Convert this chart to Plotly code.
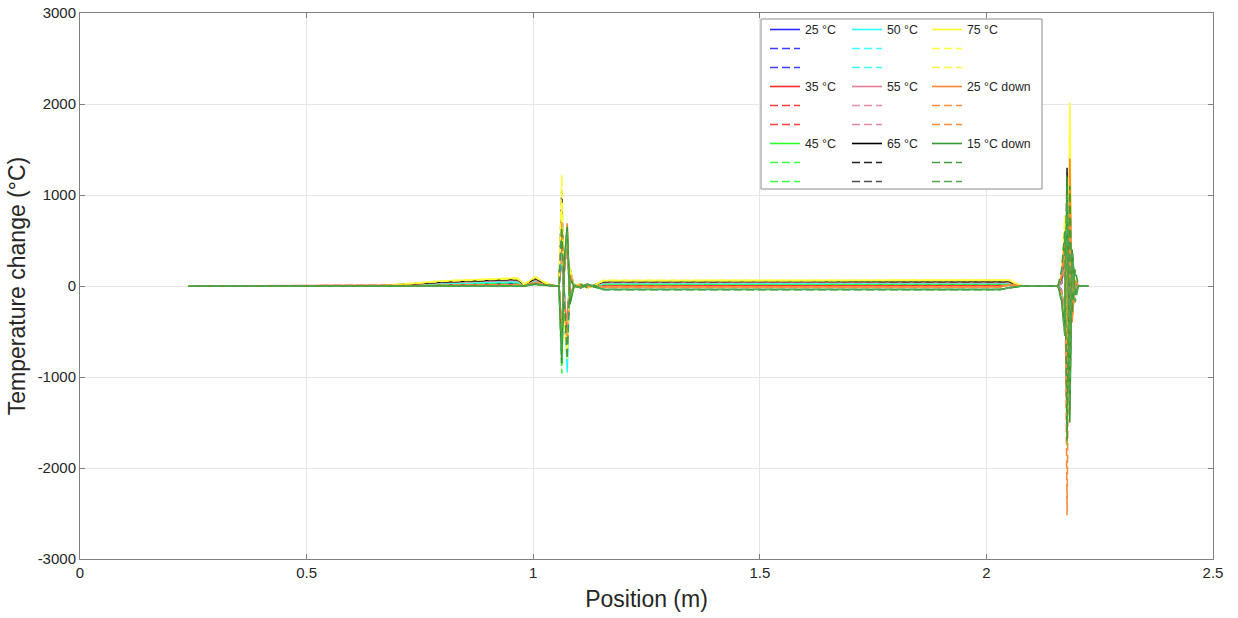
import plotly.graph_objects as go

# Sample positions along the rod (m)
position_m = [0.24, 0.66, 0.80, 0.965, 0.98, 0.995, 1.005, 1.02, 1.045, 1.057,
              1.063, 1.069, 1.075, 1.081, 1.09, 1.105, 1.12, 1.135, 1.155, 1.60,
              2.03, 2.05, 2.065, 2.08, 2.158, 2.166, 2.173, 2.178, 2.184, 2.189,
              2.196, 2.203, 2.225]

# Temperature change (°C) per run: one solid and two dashed curves per setting
t25_solid = [0, 0, 18, 30, 6, 32, 45, 22, 0, 0, 450, -200, -500, 150, 0, 12, -10, 6, 10, 11, 10, 20, 8, 0, 0, 30, 300, -900, 700, -200, 20, 0, 0]
t25_dash1 = [0, 0, 16, 28, 5, 30, 42, 20, 0, 0, -600, 300, 400, -100, 0, -10, 14, -5, 12, 12, 11, 18, 7, 0, 0, -40, -350, 600, -800, 250, -30, 0, 0]
t25_dash2 = [0, 0, 20, 32, 7, 33, 47, 23, 0, 0, 300, -100, -650, 100, 0, 8, -12, 5, 8, 9, 9, 22, 9, 0, 0, 50, 400, -1000, 500, -150, 20, 0, 0]

t35_solid = [0, 0, 8, 15, 4, 28, 40, 20, 0, 0, 500, -150, -550, 200, 0, 10, -15, 8, 5, 5, 4, 15, 6, 0, 0, 40, 350, -1100, 900, -250, 30, 0, 0]
t35_dash1 = [0, 0, 7, 13, 3, 26, 38, 18, 0, 0, -700, 200, 500, -150, 0, -12, 12, -6, 3, 4, 3, 13, 5, 0, 0, -50, -300, 700, -900, 300, -40, 0, 0]
t35_dash2 = [0, 0, 9, 17, 5, 29, 42, 21, 0, 0, 650, -300, -400, 100, 0, 14, -9, 7, 7, 6, 6, 17, 7, 0, 0, 60, 450, -1200, 800, -200, 30, 0, 0]

t45_solid = [0, 0, 25, 40, 8, 35, 50, 25, 0, 0, -500, 250, 600, -200, 0, -15, 18, -8, 20, 21, 20, 25, 10, 0, 0, 80, 400, -1300, 1000, -300, 50, 0, 0]
t45_dash1 = [0, 0, 23, 38, 7, 34, 48, 24, 0, 0, -960, 300, 550, -150, 0, 16, -14, 9, 18, 19, 18, 23, 9, 0, 0, 100, 500, -1780, 900, -250, 60, 0, 0]
t45_dash2 = [0, 0, 27, 42, 9, 36, 52, 26, 0, 0, 700, -250, -600, 150, 0, -14, 16, -7, 22, 22, 21, 27, 11, 0, 0, -80, -450, 800, -1100, 350, -50, 0, 0]

t50_solid = [0, 0, 30, 50, 10, 42, 60, 30, 0, 0, 350, -100, -950, 200, 0, 18, -16, 9, 30, 31, 30, 35, 14, 0, 0, 50, 350, -1050, 850, -250, 40, 0, 0]
t50_dash1 = [0, 0, 28, 48, 9, 40, 57, 28, 0, 0, -800, 300, 450, -100, 0, -16, 18, -9, 28, 29, 28, 33, 13, 0, 0, -60, -400, 700, -950, 300, -40, 0, 0]
t50_dash2 = [0, 0, 32, 52, 11, 44, 62, 31, 0, 0, 550, -200, -700, 150, 0, 15, -18, 8, 32, 32, 31, 37, 15, 0, 0, 70, 300, -1150, 700, -200, 30, 0, 0]

t55_solid = [0, 0, 40, 65, 12, 50, 70, 35, 0, 0, 600, -200, -500, 100, 0, 20, -18, 10, 40, 41, 40, 40, 16, 0, 0, 60, 400, -1000, 900, -300, 40, 0, 0]
t55_dash1 = [0, 0, 38, 62, 11, 48, 67, 33, 0, 0, -500, 150, 400, -100, 0, -18, 20, -10, 38, 39, 38, 38, 15, 0, 0, -50, -350, 600, -800, 250, -30, 0, 0]
t55_dash2 = [0, 0, 42, 67, 13, 51, 72, 36, 0, 0, 400, -150, -450, 100, 0, 17, -20, 9, 42, 42, 41, 42, 17, 0, 0, 40, 300, -900, 700, -200, 30, 0, 0]

t65_solid = [0, 0, 45, 75, 14, 60, 85, 42, 0, 0, 800, -300, -650, 150, 0, 22, -20, 11, 50, 51, 50, 50, 20, 0, 0, 90, 500, -1400, 1100, -350, 50, 0, 0]
t65_dash1 = [0, 0, 43, 72, 13, 58, 82, 40, 0, 0, 1050, -400, -700, 100, 0, -20, 22, -11, 48, 49, 48, 48, 19, 0, 0, -100, -500, 1300, -1200, 400, -60, 0, 0]
t65_dash2 = [0, 0, 47, 77, 15, 62, 87, 43, 0, 0, -650, 250, 550, -100, 0, 21, -19, 10, 52, 52, 51, 52, 21, 0, 0, 80, 450, -1300, 1000, -300, 50, 0, 0]

t75_solid = [0, 0, 55, 85, 16, 70, 100, 50, 0, 0, 900, -350, -700, 200, 0, 25, -22, 12, 60, 61, 60, 65, 25, 0, 0, 120, 600, -1500, 2010, -400, 80, 0, 0]
t75_dash1 = [0, 0, 53, 82, 15, 68, 97, 48, 0, 0, 1220, -450, -800, 150, 0, -24, 24, -12, 58, 59, 58, 62, 24, 0, 0, 150, 780, -1200, 1500, -350, 70, 0, 0]
t75_dash2 = [0, 0, 57, 88, 17, 72, 102, 51, 0, 0, -750, 300, 500, -150, 0, 23, -21, 11, 62, 62, 61, 67, 26, 0, 0, -100, -500, 900, -1400, 350, -60, 0, 0]

t25down_solid = [0, 0, 5, 10, 3, 25, 35, 17, 0, 0, -600, 200, 690, -150, 0, -10, 10, -5, -10, -9, -10, 10, 4, 0, 0, 100, 500, -1600, 1400, -400, 60, 0, 0]
t25down_dash1 = [0, 0, 4, 8, 2, 23, 33, 16, 0, 0, 700, -250, -600, 150, 0, 11, -9, 6, -12, -11, -12, 8, 3, 0, 0, 120, 400, -2520, 1200, -350, 70, 0, 0]
t25down_dash2 = [0, 0, 6, 12, 4, 26, 37, 18, 0, 0, -500, 200, 550, -100, 0, -9, 11, -6, -8, -8, -9, 12, 5, 0, 0, -90, -450, 1100, -1300, 300, -50, 0, 0]

t15down_solid = [0, 0, 0, -3, 0, 14, 20, 10, 0, 0, -850, 300, 650, -200, 0, -20, 20, -10, -38, -37, -38, -20, -10, 0, 0, -150, -500, 1200, -1500, 400, -100, 0, 0]
t15down_dash1 = [0, 0, -1, -5, -1, 12, 18, 9, 0, 0, 650, -200, -800, 100, 0, 18, -18, 9, -40, -39, -40, -22, -11, 0, 0, 180, 600, -1700, 1100, -300, 180, 0, 0]
t15down_dash2 = [0, 0, 1, -1, 1, 15, 22, 11, 0, 0, -700, 250, 600, -150, 0, -17, 19, -8, -36, -36, -37, -18, -9, 0, 0, -180, -550, 1000, -1300, 350, -180, 0, 0]

series_labels = ["25 °C", "35 °C", "45 °C", "50 °C", "55 °C", "65 °C",
                 "75 °C", "25 °C down", "15 °C down"]

series_curves = [
    (t25_solid, t25_dash1, t25_dash2),
    (t35_solid, t35_dash1, t35_dash2),
    (t45_solid, t45_dash1, t45_dash2),
    (t50_solid, t50_dash1, t50_dash2),
    (t55_solid, t55_dash1, t55_dash2),
    (t65_solid, t65_dash1, t65_dash2),
    (t75_solid, t75_dash1, t75_dash2),
    (t25down_solid, t25down_dash1, t25down_dash2),
    (t15down_solid, t15down_dash1, t15down_dash2),
]

# (solid, first dashed, second dashed) colours for each setting
series_colors = [
    ("#2a2aff", "#3c3cff", "#3c3cff"),
    ("#ff2a2a", "#ff3c3c", "#ff3c3c"),
    ("#2aff2a", "#3cff3c", "#3cff3c"),
    ("#2affff", "#3cffff", "#3cffff"),
    ("#e57f97", "#e88aa0", "#e88aa0"),
    ("#000000", "#222222", "#505050"),
    ("#ffff2a", "#ffff3c", "#ffff3c"),
    ("#ff8533", "#ff8d40", "#ff8d40"),
    ("#339933", "#3f9f3f", "#4fa94f"),
]

line_dashes = ["solid", "8px,4px", "8px,4px"]
legend_ids = ["legend", "legend2", "legend3"]

y_ticks = [-3000, -2000, -1000, 0, 1000, 2000, 3000]
y_tick_text = ["-3000", "-2000", "-1000", "0", "1000", "2000", "3000"]
x_ticks = [0, 0.5, 1, 1.5, 2, 2.5]
x_tick_text = ["0", "0.5", "1", "1.5", "2", "2.5"]

fig = go.Figure()
for i, (label, curves, colors) in enumerate(zip(series_labels, series_curves, series_colors)):
    leg = legend_ids[i // 3]
    for k, (yvals, col) in enumerate(zip(curves, colors)):
        fig.add_trace(go.Scatter(
            x=position_m, y=yvals, mode="lines",
            name=label if k == 0 else " ",
            line=dict(color=col, width=1.6, dash=line_dashes[k]),
            legend=leg, showlegend=True,
        ))

font_family = "Liberation Sans, Arial, Helvetica, sans-serif"
text_col = "#262626"
axis_col = "#808080"
grid_col = "#e6e6e6"

def px_x(p):
    return (p - 80) / 1133.0

def px_y(p):
    return 1 - (p - 13) / 546.0

legend_common = dict(
    bgcolor="rgba(0,0,0,0)", borderwidth=0, xanchor="left", yanchor="top",
    font=dict(family=font_family, size=12.3, color=text_col),
    tracegroupgap=0, orientation="v", itemclick=False, y=px_y(15),
)

fig.update_layout(
    width=1238, height=618,
    margin=dict(l=80, r=25, t=13, b=59, autoexpand=False),
    paper_bgcolor="white", plot_bgcolor="white",
    font=dict(family=font_family, color=text_col),
    showlegend=True,
    legend=dict(x=px_x(765), **legend_common),
    legend2=dict(x=px_x(847), **legend_common),
    legend3=dict(x=px_x(927), **legend_common),
    xaxis=dict(
        range=[0, 2.5], tickvals=x_ticks, ticktext=x_tick_text,
        automargin=False,
        showgrid=True, gridcolor=grid_col, zeroline=False,
        showline=True, linecolor=axis_col, linewidth=1, mirror="ticks",
        ticks="inside", ticklen=5, tickcolor=axis_col,
        tickfont=dict(family=font_family, size=15, color=text_col),
        title=dict(text="Position (m)", standoff=10,
                   font=dict(family=font_family, size=23, color=text_col)),
    ),
    yaxis=dict(
        range=[-3000, 3000], tickvals=y_ticks, ticktext=y_tick_text,
        automargin=False,
        showgrid=True, gridcolor=grid_col, zeroline=False,
        showline=True, linecolor=axis_col, linewidth=1, mirror="ticks",
        ticks="inside", ticklen=5, tickcolor=axis_col,
        tickfont=dict(family=font_family, size=15, color=text_col),
        title=dict(text="Temperature change (°C)", standoff=5,
                   font=dict(family=font_family, size=23, color=text_col)),
    ),
    shapes=[dict(
        type="rect", xref="paper", yref="paper",
        x0=px_x(761), x1=px_x(1042), y0=px_y(189), y1=px_y(19),
        fillcolor="white", line=dict(color="#8c8c8c", width=1), layer="above",
    )],
)

fig.write_html("out.html")
